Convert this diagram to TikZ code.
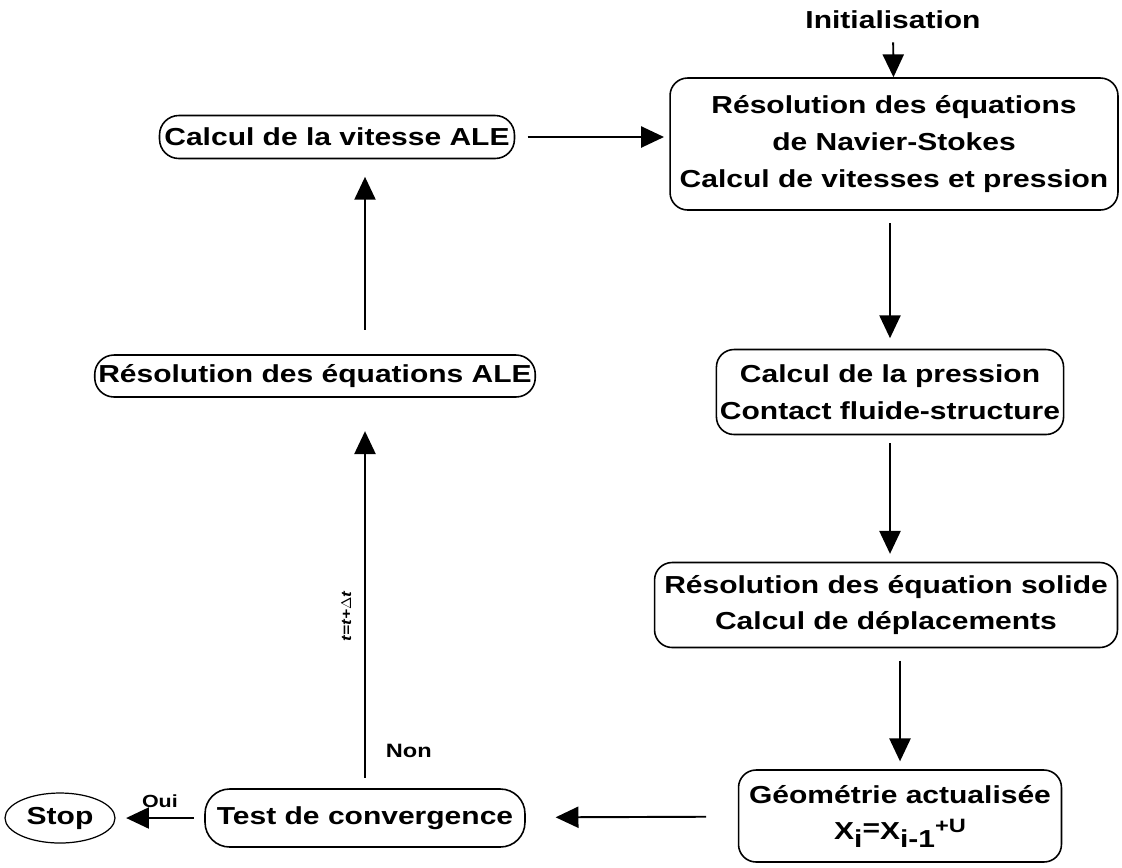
\documentclass[tikz,border=0pt]{standalone}
\usepackage{fontspec}
\setmainfont{Liberation Sans}[FakeStretch=1.22]
\usepackage{tikz}
\usetikzlibrary{shapes.geometric,arrows.meta,positioning,calc}

\begin{document}
\begin{tikzpicture}[
  x=0.02cm,y=-0.02cm,
  font=\fontsize{14}{21}\selectfont\bfseries,
  box/.style={draw,rounded corners=10pt,line width=0.9pt,align=center,inner sep=2pt},
  pill/.style={draw,rounded corners=11pt,line width=0.9pt,align=center,inner sep=2pt},
  endstate/.style={draw,ellipse,line width=0.7pt,inner sep=1pt,minimum width=2.2cm,minimum height=1cm},
  flow/.style={-{Triangle[length=13pt,width=12pt]},line width=1.1pt}
]
  \useasboundingbox (0,0) rectangle (1122,867);

  \node (init) at (893,20) {Initialisation};
  \node[box,minimum width=8.96cm,minimum height=2.64cm] (ns) at (894,144) {Résolution des équations\\de Navier-Stokes\\Calcul de vitesses et pression};
  \node[pill,minimum width=7.1cm,minimum height=0.86cm] (vale) at (337,137) {Calcul de la vitesse ALE};
  \node[pill,minimum width=7.8cm,minimum height=0.84cm] (resale) at (315,376) {Résolution des équations ALE};
  \node[box,minimum width=6.88cm,minimum height=1.7cm] (press) at (890,392) {Calcul de la pression\\Contact fluide-structure};
  \node[box,minimum width=9.26cm,minimum height=1.7cm] (solid) at (886,605) {Résolution des équation solide\\Calcul de déplacements};
  \node[box,minimum width=6.46cm,minimum height=1.84cm] (geom) at (900,816) {Géométrie actualisée\\X\raisebox{-0.55ex}{i}\raisebox{0.3ex}{=}X\raisebox{-0.55ex}{i-1}\raisebox{0.6ex}{\fontsize{11}{12}\selectfont +U}};
  \node[pill,rounded corners=14pt,minimum width=6.4cm,minimum height=1.16cm] (test) at (365,818) {Test de convergence};
  \node[endstate] (stop) at (60,818) {Stop};

  \draw[flow,shorten <=4pt] (init) -- (ns);
  \draw[flow,shorten <=7pt,shorten >=6pt] (press.north |- ns.south) -- (press.north);
  \draw[flow,shorten <=4.5pt,shorten >=4.5pt] (press.south) -- (press.south |- solid.north);
  \draw[flow,shorten <=7pt,shorten >=4.5pt] (geom.north |- solid.south) -- (geom.north);
  \draw[flow,shorten <=18pt,shorten >=17pt] (geom) -- (test);
  \draw[flow,shorten <=6pt,shorten >=6pt] (test) -- node[above=2pt,font=\fontsize{10}{12}\selectfont\bfseries]{Oui} (stop);
  \draw[flow,shorten <=6pt,shorten >=19pt] (test.north) -- node[pos=0.095,right=8pt,font=\fontsize{11}{12}\selectfont\bfseries]{Non}
    node[pos=0.44,left=4pt,rotate=90,anchor=south,font=\fontsize{8}{10}\selectfont\itshape\bfseries]{t=t+$\Delta$t} (test.north |- resale.south);
  \draw[flow,shorten <=14pt,shorten >=10pt] (resale.north -| test.north) -- (vale.south -| test.north);
  \draw[flow,shorten <=7pt,shorten >=3pt] (vale) -- (vale -| ns.west);
\end{tikzpicture}
\end{document}
